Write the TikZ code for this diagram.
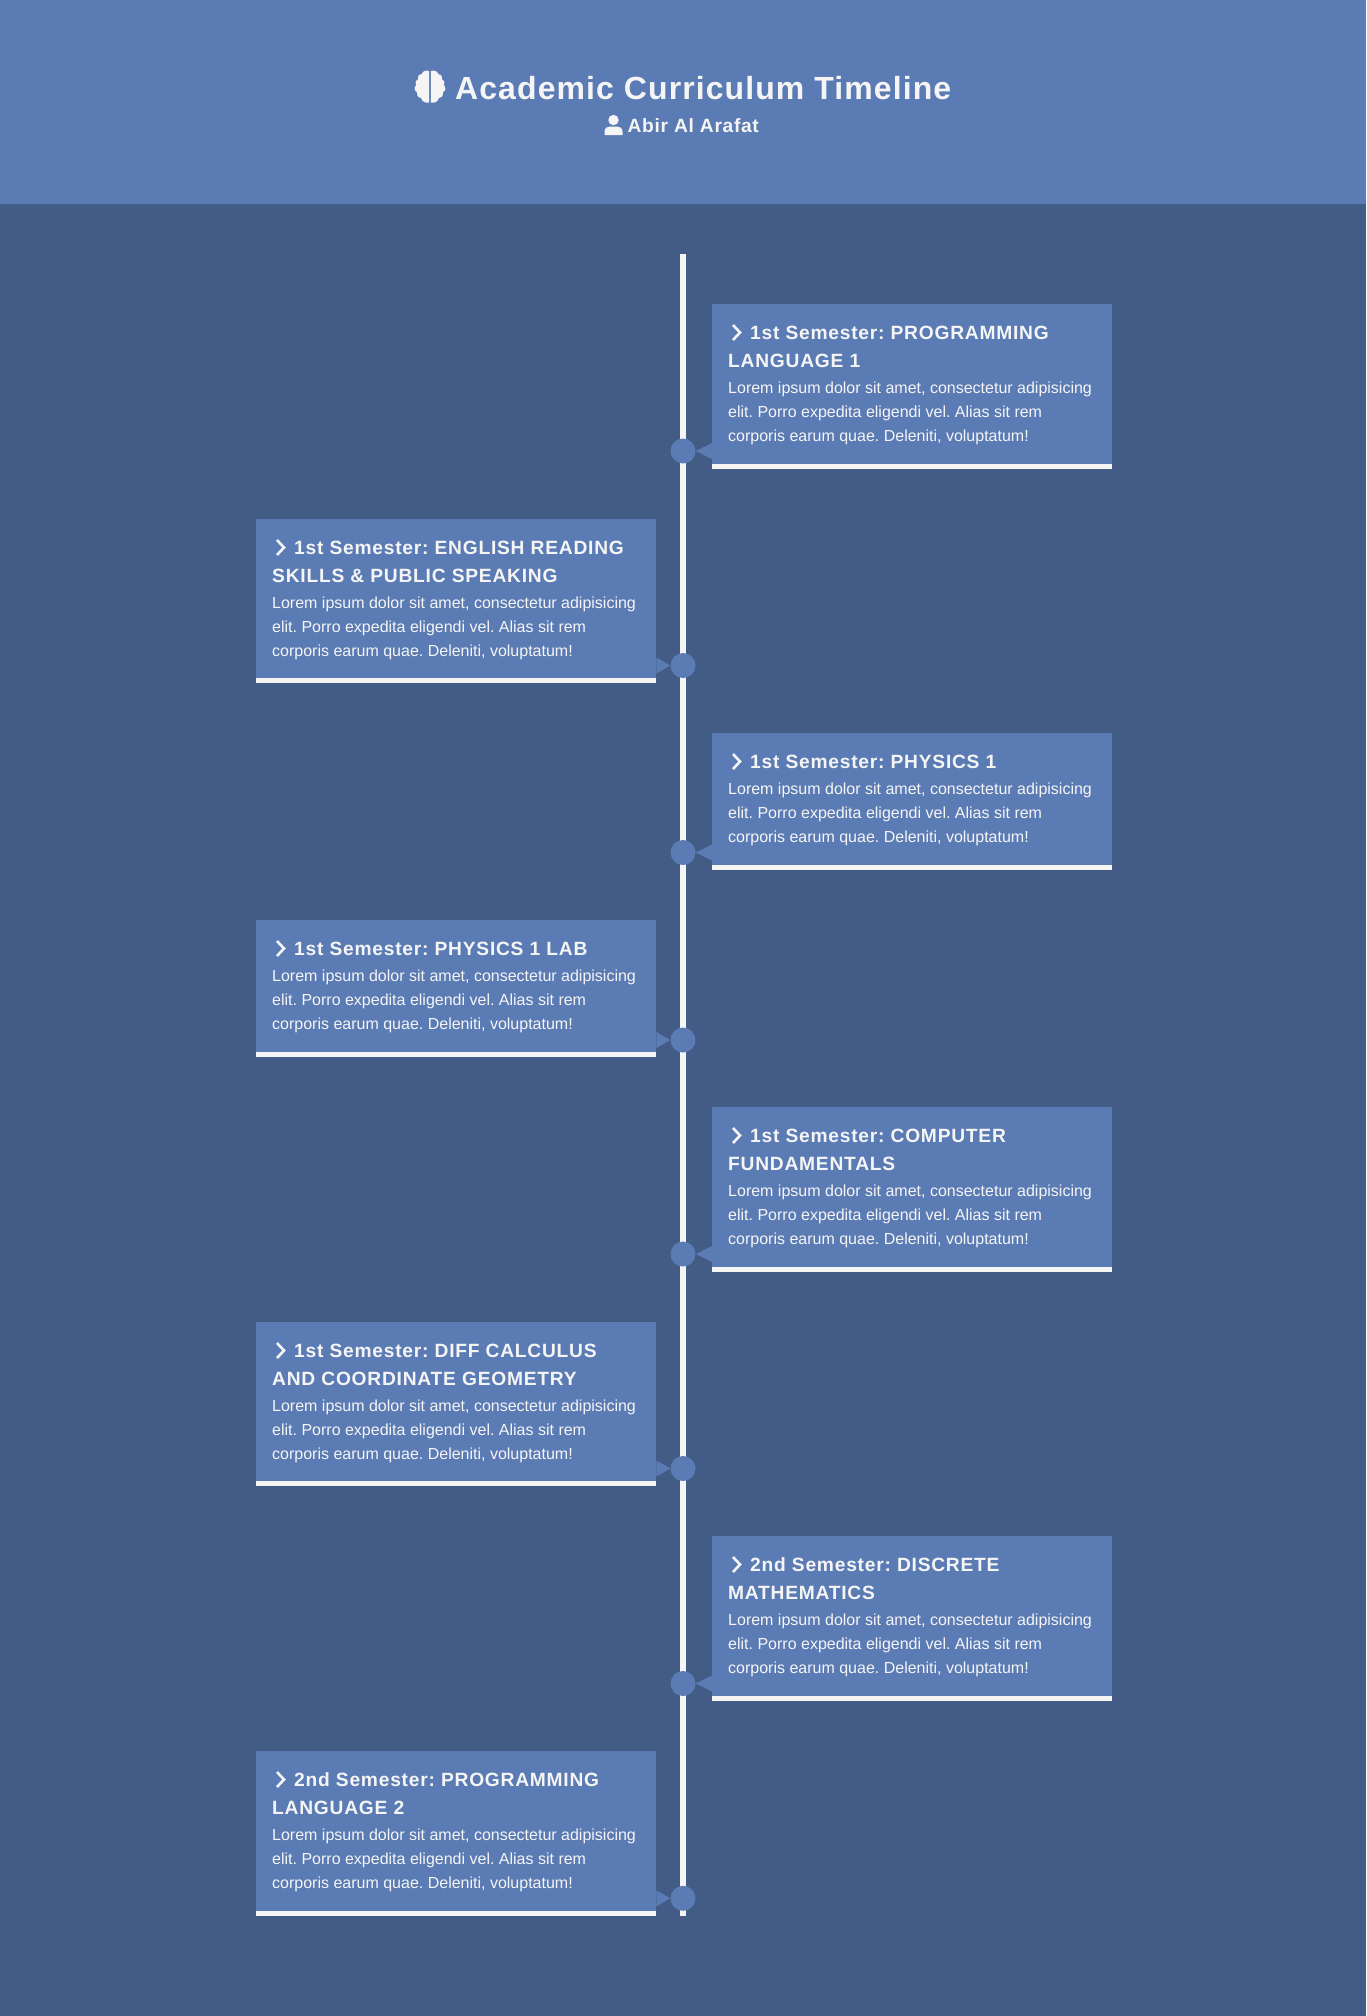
\documentclass[tikz,border=0pt]{standalone}
\usepackage{fontspec}
\setmainfont{Liberation Sans}
\newfontfamily\ttlfont[LetterSpace=3.4]{Liberation Sans}
\newfontfamily\subfont[LetterSpace=3.5]{Liberation Sans}
\newfontfamily\headfont[LetterSpace=4.0]{Liberation Sans}
\definecolor{lightblue}{HTML}{5B7BB4}
\definecolor{darkblue}{HTML}{435C85}
\definecolor{paper}{HTML}{F5F5F5}
\frenchspacing
\tikzset{
  x=1pt,y=-1pt,
  panel/.style={fill=lightblue,draw=none,rectangle,inner sep=0pt,anchor=north west,minimum width=400pt},
  band/.style={fill=paper,draw=none},
  dot/.style={circle,fill=lightblue,draw=none,inner sep=0pt,minimum size=25pt},
  pointer/.style={fill=lightblue,draw=none},
  head/.style={anchor=base west,inner sep=0pt,text=paper,font=\fontsize{19.2pt}{23pt}\bfseries\headfont\frenchspacing},
  bodytext/.style={anchor=base west,inner sep=0pt,text=paper,font=\fontsize{16pt}{20pt}\selectfont\frenchspacing},
  chevron/.style={draw=paper,line width=2.6pt,miter limit=10},
  lobe/.pic={
    \fill[paper] (0.8,71) .. controls (4,70) and (6.5,71) .. (7.5,74) .. controls (10.5,74.5) and (11.5,77) .. (11,79.5)
      .. controls (13.5,81) and (13.5,83.5) .. (12.5,85) .. controls (14.5,87) and (14.5,90.5) .. (12,92)
      .. controls (12.5,95) and (11,97.5) .. (8,98) .. controls (7.5,101.5) and (4,103.5) .. (0.8,102.5) -- cycle;
  },
}
% #1 name, #2 box left, #3 box top, #4 height, #5 first title line, #6 second title line (may be empty)
\newcommand{\tlentry}[6]{%
  \node[panel,minimum height=#4pt] (#1) at (#2,#3) {};
  \fill[band] ([yshift=5pt]#1.south west) rectangle (#1.south east);
  \draw[chevron] ([xshift=21pt,yshift=-21pt]#1.north west) -- ++(7,7.5) -- ++(-7,7.5);
  \node[head] (#1t) at ([xshift=38pt,yshift=-35pt]#1.north west) {#5};
  \ifx\relax#6\relax
    \def\tloff{61}%
  \else
    \node[head] (#1u) at ([xshift=16pt,yshift=-63pt]#1.north west) {#6};
    \def\tloff{89}%
  \fi
  \node[bodytext] (#1a) at ([xshift=16pt,yshift=-\tloff pt]#1.north west) {Lorem ipsum dolor sit amet, consectetur adipisicing};
  \node[bodytext] (#1b) at ([yshift=-24pt]#1a.base west) {elit. Porro expedita eligendi vel. Alias sit rem};
  \node[bodytext] (#1c) at ([yshift=-24pt]#1b.base west) {corporis earum quae. Deleniti, voluptatum!};
}
\begin{document}
\begin{tikzpicture}
\useasboundingbox (0,0) rectangle (1366,2016);
\fill[darkblue] (0,0) rectangle (1366,2016);
\fill[lightblue] (0,0) rectangle (1366,204);
% brain
\pic[xscale=1.1] at (430,0) {lobe};
\pic[xscale=-1.1] at (430,0) {lobe};
% person
\fill[paper] (613.5,120) circle (5.2);
\fill[paper] (604.5,135) -- (604.5,132) .. controls (604.5,128) and (607,126.5) .. (610,126.5) -- (617,126.5) .. controls (620,126.5) and (622.5,128) .. (622.5,132) -- (622.5,135) -- cycle;
\node[anchor=base west,inner sep=0pt,text=paper,font=\fontsize{32pt}{38pt}\bfseries\ttlfont] (title) at (455,99) {Academic Curriculum Timeline};
\node[anchor=base west,inner sep=0pt,text=paper,font=\fontsize{19.2pt}{23pt}\bfseries\subfont] (author) at (627.5,132) {Abir Al Arafat};
% spine
\fill[paper] (680,254) rectangle (686,1916);
\tlentry{e1}{712}{304}{165}{1st Semester: PROGRAMMING}{LANGUAGE 1}
\tlentry{e2}{256}{519}{164}{1st Semester: ENGLISH READING}{SKILLS \& PUBLIC SPEAKING}
\tlentry{e3}{712}{733}{137}{1st Semester: PHYSICS 1}{}
\tlentry{e4}{256}{920}{137}{1st Semester: PHYSICS 1 LAB}{}
\tlentry{e5}{712}{1107}{165}{1st Semester: COMPUTER}{FUNDAMENTALS}
\tlentry{e6}{256}{1322}{164}{1st Semester: DIFF CALCULUS}{AND COORDINATE GEOMETRY}
\tlentry{e7}{712}{1536}{165}{2nd Semester: DISCRETE}{MATHEMATICS}
\tlentry{e8}{256}{1751}{165}{2nd Semester: PROGRAMMING}{LANGUAGE 2}
% dots and pointers
\foreach \e/\d/\yy/\side in {e1/d1/451/r,e2/d2/665.5/l,e3/d3/852.5/r,e4/d4/1040/l,e5/d5/1254/r,e6/d6/1468.5/l,e7/d7/1683.5/r,e8/d8/1898.3/l}{
  \node[dot] (\d) at (683,\yy) {};
  \if r\side
    \fill[pointer] ([yshift=8pt]\e.west |- \d) -- (\d.east) -- ([yshift=-8pt]\e.west |- \d) -- cycle;
  \else
    \fill[pointer] ([yshift=8pt]\e.east |- \d) -- (\d.west) -- ([yshift=-8pt]\e.east |- \d) -- cycle;
  \fi
}
\end{tikzpicture}
\end{document}
